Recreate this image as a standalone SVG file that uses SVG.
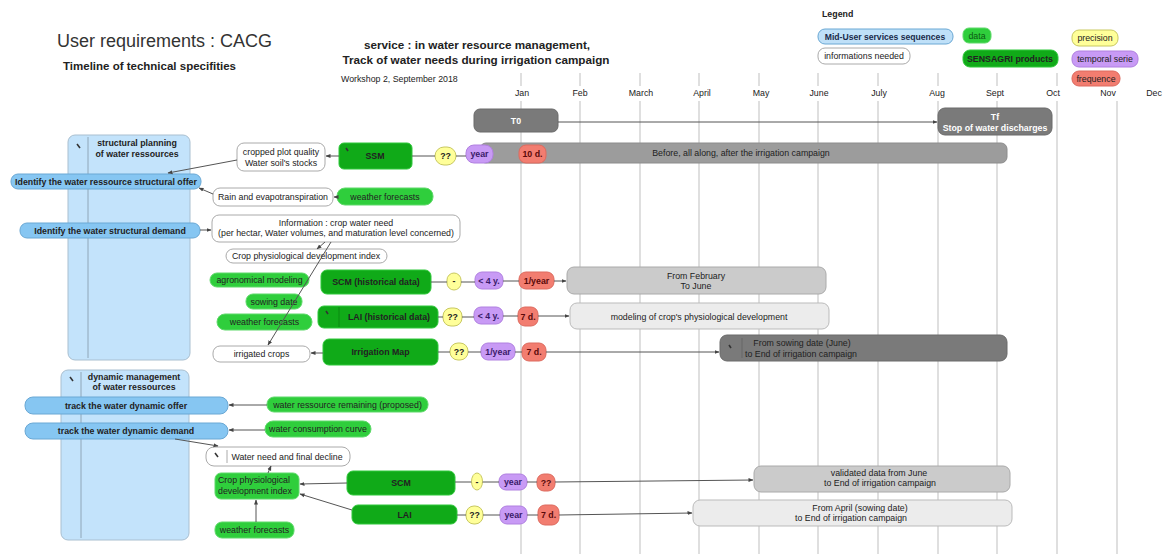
<svg xmlns="http://www.w3.org/2000/svg" width="1173" height="554" viewBox="0 0 1173 554">
<defs>
<marker id="ah" viewBox="0 0 10 10" refX="9" refY="5" markerWidth="5" markerHeight="5" orient="auto"><path d="M0,1 L10,5 L0,9 z" fill="#444"/></marker>
<style>
text{font-family:"Liberation Sans",Arial,sans-serif;font-size:8.8px;fill:#222}
.c{text-anchor:middle}
.b{font-weight:bold}
.grid{stroke:#d4d4d4;stroke-width:1.5}
.col{fill:#c3e3fb;stroke:#a9bfd0;stroke-width:1}
.colv{stroke:#8fa6b8;stroke-width:1}
.blue{fill:#86c6f2;stroke:#6aa8d4;stroke-width:1}
.info{fill:#fff;stroke:#aaa;stroke-width:1}
.data{fill:#2fce3c;stroke:#5fd96a;stroke-width:1}
.sens{fill:#10aa18;stroke:#2fc83a;stroke-width:1}
.yel{fill:#ffff99;stroke:#c8c860;stroke-width:1}
.pur{fill:#c89af5;stroke:#b080e0;stroke-width:1}
.sal{fill:#f27d70;stroke:#dd6a5e;stroke-width:1}
.g7{fill:#7a7a7a;stroke:#6a6a6a}
.g9{fill:#9c9c9c;stroke:#8c8c8c}
.gc{fill:#cbcbcb;stroke:#aaa}
.ge{fill:#ececec;stroke:#bbb}
.conn line{stroke:#555;stroke-width:1;fill:none}
.ic{stroke:#333;stroke-width:1.6}
.tp{fill:#3a1a6a}
.ts{fill:#5a0a0a}
</style>
</defs>

<g id="grid">
<line class="grid" x1="521" y1="73" x2="521" y2="86"/><line class="grid" x1="580" y1="73" x2="580" y2="86"/><line class="grid" x1="640" y1="73" x2="640" y2="86"/><line class="grid" x1="699" y1="73" x2="699" y2="86"/><line class="grid" x1="759" y1="73" x2="759" y2="86"/><line class="grid" x1="818" y1="73" x2="818" y2="86"/><line class="grid" x1="878" y1="73" x2="878" y2="86"/><line class="grid" x1="938" y1="73" x2="938" y2="86"/><line class="grid" x1="997" y1="73" x2="997" y2="86"/><line class="grid" x1="1057" y1="73" x2="1057" y2="86"/>
<line class="grid" x1="521" y1="101" x2="521" y2="554"/><line class="grid" x1="580" y1="101" x2="580" y2="554"/><line class="grid" x1="640" y1="101" x2="640" y2="554"/><line class="grid" x1="699" y1="101" x2="699" y2="554"/><line class="grid" x1="759" y1="101" x2="759" y2="554"/><line class="grid" x1="818" y1="101" x2="818" y2="554"/><line class="grid" x1="878" y1="101" x2="878" y2="554"/><line class="grid" x1="938" y1="101" x2="938" y2="554"/><line class="grid" x1="997" y1="101" x2="997" y2="554"/><line class="grid" x1="1057" y1="101" x2="1057" y2="554"/><line class="grid" x1="1117" y1="101" x2="1117" y2="554"/>
<text class="c" x="522" y="96">Jan</text><text class="c" x="580" y="96">Feb</text><text class="c" x="641" y="96">March</text><text class="c" x="702" y="96">April</text><text class="c" x="761" y="96">May</text><text class="c" x="819" y="96">June</text><text class="c" x="879" y="96">July</text><text class="c" x="937" y="96">Aug</text><text class="c" x="995" y="96">Sept</text><text class="c" x="1053" y="96">Oct</text><text class="c" x="1108" y="96">Nov</text><text class="c" x="1154" y="96">Dec</text>
</g>

<g id="titles">
<text x="57" y="47" style="font-size:18px;fill:#333">User requirements : CACG</text>
<text x="63" y="70" class="b" style="font-size:11.5px">Timeline of technical specifities</text>
<text x="477" y="49" class="c b" style="font-size:11.7px">service : in water resource management,</text>
<text x="476" y="64" class="c b" style="font-size:11.7px">Track of water needs during irrigation campaign</text>
<text x="341" y="82">Workshop 2, September 2018</text>
</g>

<g id="legend">
<text x="822" y="17" class="b">Legend</text>
<rect class="blue" x="818" y="29" width="135" height="15" rx="7" style="fill:#bfe0f8"/><text class="c b" x="885" y="39.5" style="fill:#1a2a4a;font-size:8.6px">Mid-User services sequences</text>
<rect class="info" x="818" y="48" width="92" height="16" rx="7"/><text class="c" x="864" y="59">informations needed</text>
<rect class="data" x="963" y="28" width="28" height="15" rx="6"/><text class="c" x="977" y="38.5" style="fill:#0a5a10">data</text>
<rect class="sens" x="963" y="50" width="95" height="17" rx="7"/><text class="c b" x="1010" y="61.5">SENSAGRI products</text>
<rect class="yel" x="1072" y="30" width="46" height="16" rx="7"/><text class="c" x="1095" y="41">precision</text>
<rect class="pur" x="1072" y="51" width="66" height="16" rx="7"/><text class="c" x="1105" y="62">temporal serie</text>
<rect class="sal" x="1072" y="71" width="48" height="15" rx="7"/><text class="c" x="1096" y="81.5">frequence</text>
</g>

<g id="col-structural">
<rect class="col" x="68" y="135" width="122" height="225" rx="7"/>
<line class="colv" x1="88" y1="137" x2="88" y2="358"/>
<line class="ic" x1="77" y1="144" x2="80" y2="148"/>
<text class="c b" x="137" y="146">structural planning</text>
<text class="c b" x="137" y="157">of water ressources</text>
</g>
<g id="col-dynamic">
<rect class="col" x="61" y="370" width="128" height="170" rx="7"/>
<line class="colv" x1="81" y1="372" x2="81" y2="538"/>
<line class="ic" x1="70" y1="377" x2="73" y2="381"/>
<text class="c b" x="134" y="380">dynamic management</text>
<text class="c b" x="134" y="390">of water ressources</text>
</g>

<g id="n-offer"><rect class="blue" x="11" y="174" width="190" height="15" rx="7"/><text class="c b" x="106" y="184.5">Identify the water ressource structural offer</text></g>
<g id="n-demand"><rect class="blue" x="20" y="223" width="180" height="15" rx="7"/><text class="c b" x="110" y="233.5">Identify the water structural demand</text></g>
<g id="n-dynoffer"><rect class="blue" x="25" y="397" width="203" height="17" rx="8"/><text class="c b" x="126" y="408.5">track the water dynamic offer</text></g>
<g id="n-dyndemand"><rect class="blue" x="25" y="423" width="203" height="16" rx="8"/><text class="c b" x="126" y="434">track the water dynamic demand</text></g>

<g id="n-T0"><rect class="g7" x="474" y="109" width="84" height="23" rx="6"/><text class="c b" x="516" y="124" style="fill:#fff">T0</text></g>
<g id="n-Tf"><rect class="g7" x="938" y="108" width="114" height="27" rx="7"/><text class="c b" x="995" y="120" style="fill:#fff">Tf</text><text class="c b" x="995" y="131" style="fill:#fff">Stop of water discharges</text></g>

<g id="n-before"><rect class="g9" x="480" y="143" width="527" height="20" rx="6"/><text class="c" x="741" y="156">Before, all along, after the irrigation campaign</text></g>

<g id="n-cropped"><rect class="info" x="237" y="143" width="88" height="28" rx="7"/><text class="c" x="281" y="155">cropped plot quality</text><text class="c" x="281" y="166">Water soil's stocks</text></g>
<g id="n-SSM"><rect class="sens" x="339" y="143" width="73" height="26" rx="5"/><line class="ic" x1="346" y1="148" x2="348" y2="151"/><text class="c b" x="375" y="159">SSM</text></g>
<g id="p-ssm-prec"><rect class="yel" x="435" y="147" width="21" height="18" rx="9"/><text class="c b" x="445.5" y="159">??</text></g>
<g id="p-ssm-temp"><rect class="pur" x="466" y="145" width="27" height="18" rx="8"/><text class="c b tp" x="479.5" y="157">year</text></g>
<g id="p-ssm-freq"><rect class="sal" x="519" y="145" width="27" height="18" rx="7"/><text class="c b ts" x="532.5" y="157">10 d.</text></g>

<g id="n-rain"><rect class="info" x="213" y="188" width="120" height="18" rx="7"/><text class="c" x="273" y="200">Rain and evapotranspiration</text></g>
<g id="n-weather1"><rect class="data" x="337" y="188" width="96" height="17" rx="8"/><text class="c" x="385" y="199.5">weather forecasts</text></g>

<g id="n-information"><rect class="info" x="212" y="215" width="248" height="27" rx="7"/><text class="c" x="336" y="226">Information : crop water need</text><text class="c" x="336" y="236">(per hectar, Water volumes, and maturation level concerned)</text></g>
<g id="n-cropindex"><rect class="info" x="226" y="249" width="161" height="14" rx="7"/><text class="c" x="306" y="259">Crop physiological  development index</text></g>

<g id="n-agro"><rect class="data" x="210" y="273" width="99" height="14" rx="7"/><text class="c" x="259.5" y="283">agronomical modeling</text></g>
<g id="n-sowing"><rect class="data" x="246" y="294" width="56" height="15" rx="7"/><text class="c" x="274" y="304.5">sowing date</text></g>
<g id="n-weather2"><rect class="data" x="217" y="314" width="95" height="16" rx="8"/><text class="c" x="264.5" y="325">weather forecasts</text></g>
<g id="n-irrigated"><rect class="info" x="213" y="346" width="97" height="16" rx="7"/><text class="c" x="261.5" y="357">irrigated crops</text></g>

<g id="n-SCMh"><rect class="sens" x="321" y="270" width="110" height="24" rx="6"/><text class="c b" x="376" y="285">SCM (historical data)</text></g>
<g id="n-LAIh"><rect class="sens" x="318" y="306" width="120" height="22" rx="6"/><line class="ic" x1="326" y1="311" x2="328" y2="314"/><line x1="339" y1="307" x2="339" y2="327" stroke="#0a8a10"/><text class="c b" x="389" y="320">LAI  (historical data)</text></g>
<g id="n-irrmap"><rect class="sens" x="323" y="339" width="115" height="26" rx="6"/><text class="c b" x="380.5" y="355">Irrigation Map</text></g>

<g id="p-scmh"><rect class="yel" x="447" y="273" width="14" height="17" rx="7"/><text class="c b" x="454" y="284">-</text>
<rect class="pur" x="475" y="272" width="28" height="17" rx="7"/><text class="c b tp" x="489" y="283.5">&lt; 4 y.</text>
<rect class="sal" x="519" y="272" width="35" height="17" rx="7"/><text class="c b ts" x="536.5" y="283.5">1/year</text></g>
<g id="n-febjune"><rect class="gc" x="567" y="267" width="259" height="27" rx="7"/><text class="c" x="696" y="279">From February</text><text class="c" x="696" y="289">To June</text></g>

<g id="p-laih"><rect class="yel" x="443" y="308" width="19" height="18" rx="8"/><text class="c b" x="452.5" y="320">??</text>
<rect class="pur" x="474" y="307" width="29" height="17" rx="7"/><text class="c b tp" x="488.5" y="318.5">&lt; 4 y.</text>
<rect class="sal" x="518" y="307" width="20" height="19" rx="7"/><text class="c b ts" x="528" y="319.5">7 d.</text></g>
<g id="n-modeling"><rect class="ge" x="570" y="303" width="259" height="26" rx="7"/><text class="c" x="699" y="320">modeling of crop's physiological development</text></g>

<g id="p-irr"><rect class="yel" x="450" y="343" width="18" height="17" rx="8"/><text class="c b" x="459" y="354.5">??</text>
<rect class="pur" x="481" y="343" width="34" height="17" rx="7"/><text class="c b tp" x="498" y="354.5">1/year</text>
<rect class="sal" x="522" y="343" width="24" height="18" rx="7"/><text class="c b ts" x="534" y="355">7 d.</text></g>
<g id="n-sowingjune"><rect class="g7" x="720" y="335" width="287" height="26" rx="7"/><line class="ic" x1="729" y1="345" x2="731" y2="348"/><line x1="742" y1="338" x2="742" y2="358" stroke="#666"/><text class="c" x="802" y="346">From sowing date (June)</text><text class="c" x="801" y="357">to End of irrigation campaign</text></g>

<g id="n-remaining"><rect class="data" x="267" y="397" width="161" height="15" rx="7"/><text class="c" x="347.5" y="407.5">water ressource remaining (proposed)</text></g>
<g id="n-consumption"><rect class="data" x="265" y="421" width="106" height="16" rx="8"/><text class="c" x="318" y="432">water consumption curve</text></g>

<g id="n-waterneed"><rect class="info" x="206" y="447" width="144" height="19" rx="8"/><line class="ic" x1="215" y1="453" x2="218" y2="457"/><line x1="227" y1="450" x2="227" y2="463" stroke="#aaa"/><text class="c" x="287" y="459.5">Water need and final decline</text></g>
<g id="n-cropindex2"><rect class="data" x="215" y="473" width="84" height="26" rx="6"/><text x="218" y="483">Crop physiological</text><text x="218" y="494">development index</text></g>
<g id="n-weather3"><rect class="data" x="215" y="522" width="79" height="16" rx="7"/><text class="c" x="254.5" y="533">weather forecasts</text></g>

<g id="n-SCM"><rect class="sens" x="347" y="471" width="108" height="24" rx="6"/><text class="c b" x="401" y="486">SCM</text></g>
<g id="n-LAI"><rect class="sens" x="352" y="505" width="105" height="19" rx="6"/><text class="c b" x="404.5" y="517.5">LAI</text></g>

<g id="p-scm"><ellipse class="yel" cx="477" cy="481.5" rx="5.5" ry="8.5"/><text class="c b" x="477" y="484.5">-</text>
<rect class="pur" x="499" y="474" width="28" height="16" rx="7"/><text class="c b tp" x="513" y="485">year</text>
<rect class="sal" x="537" y="474" width="18" height="17" rx="7"/><text class="c b ts" x="546" y="485.5">??</text></g>
<g id="n-validated"><rect class="gc" x="754" y="466" width="256" height="26" rx="7"/><text class="c" x="879" y="476">validated data from June</text><text class="c" x="880" y="486">to End of irrigation campaign</text></g>

<g id="p-lai"><rect class="yel" x="466" y="506" width="17" height="18" rx="8"/><text class="c b" x="474.5" y="518">??</text>
<rect class="pur" x="500" y="506" width="27" height="18" rx="7"/><text class="c b tp" x="513.5" y="518">year</text>
<rect class="sal" x="538" y="505" width="21" height="20" rx="7"/><text class="c b ts" x="548.5" y="518">7 d.</text></g>
<g id="n-april"><rect class="ge" x="693" y="500" width="319" height="26" rx="7"/><text class="c" x="860" y="511">From April (sowing date)</text><text class="c" x="851" y="521">to End of irrigation campaign</text></g>

<g id="conns" class="conn">
<line x1="558" y1="122" x2="937" y2="122" marker-end="url(#ah)"/>
<line x1="237" y1="160" x2="168" y2="173" marker-end="url(#ah)"/>
<line x1="339" y1="156" x2="326" y2="156" marker-end="url(#ah)"/>
<line x1="412" y1="156" x2="435" y2="156"/><line x1="456" y1="156" x2="466" y2="156"/>
<line x1="213" y1="194" x2="199" y2="188" marker-end="url(#ah)"/>
<line x1="337" y1="197" x2="334" y2="197" marker-end="url(#ah)"/>
<line x1="200" y1="230" x2="211" y2="230" marker-end="url(#ah)"/>
<line x1="325" y1="242" x2="317" y2="249" marker-end="url(#ah)"/>
<line x1="331" y1="242" x2="268" y2="345" marker-end="url(#ah)"/>
<line x1="323" y1="353" x2="311" y2="353" marker-end="url(#ah)"/>
<line x1="431" y1="282" x2="447" y2="282"/><line x1="461" y1="282" x2="475" y2="282"/><line x1="503" y1="281" x2="519" y2="281"/><line x1="554" y1="281" x2="566" y2="281" marker-end="url(#ah)"/>
<line x1="438" y1="317" x2="443" y2="317"/><line x1="462" y1="317" x2="474" y2="317"/><line x1="503" y1="316" x2="518" y2="316"/><line x1="538" y1="316" x2="569" y2="316" marker-end="url(#ah)"/>
<line x1="438" y1="352" x2="450" y2="352"/><line x1="468" y1="352" x2="481" y2="352"/><line x1="515" y1="352" x2="522" y2="352"/><line x1="546" y1="352" x2="719" y2="352" marker-end="url(#ah)"/>
<line x1="267" y1="405" x2="229" y2="405" marker-end="url(#ah)"/>
<line x1="265" y1="430" x2="229" y2="430" marker-end="url(#ah)"/>
<line x1="175" y1="439" x2="218" y2="446" marker-end="url(#ah)"/>
<line x1="268" y1="473" x2="271" y2="466" marker-end="url(#ah)"/>
<line x1="256" y1="522" x2="256" y2="500" marker-end="url(#ah)"/>
<line x1="347" y1="483" x2="300" y2="484" marker-end="url(#ah)"/>
<line x1="352" y1="510" x2="300" y2="494" marker-end="url(#ah)"/>
<line x1="455" y1="482" x2="471.5" y2="482"/><line x1="482.5" y1="482" x2="499" y2="482"/><line x1="527" y1="482" x2="537" y2="482"/><line x1="555" y1="482" x2="753" y2="480" marker-end="url(#ah)"/>
<line x1="457" y1="515" x2="466" y2="515"/><line x1="483" y1="515" x2="500" y2="515"/><line x1="527" y1="515" x2="538" y2="515"/><line x1="559" y1="515" x2="692" y2="513" marker-end="url(#ah)"/>
</g>
</svg>
